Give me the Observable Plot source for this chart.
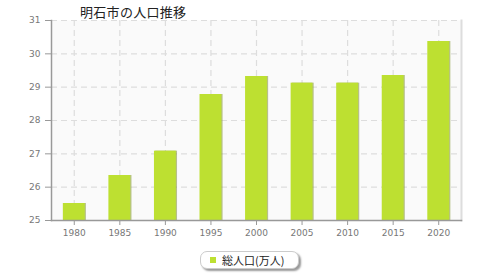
<!DOCTYPE html>
<html><head><meta charset="utf-8">
<script src="https://cdn.jsdelivr.net/npm/d3@7"></script>
<script src="https://cdn.jsdelivr.net/npm/@observablehq/plot@0.6"></script>
<style>
body{margin:0;background:#fff;font-family:"Noto Sans CJK JP","DejaVu Sans",sans-serif;}
#wrap{position:relative;width:480px;height:280px;}
#title{position:absolute;left:80px;top:2px;font-size:13px;color:#222;letter-spacing:0.3px;}
#chart{position:absolute;left:0;top:0;}
#legend{position:absolute;left:200px;top:251px;width:97px;height:16px;border:1px solid #ccc;border-radius:7px;box-shadow:2px 2px 2px #999;background:#fff;font-size:11px;color:#222;display:flex;align-items:center;}
#legend span.sw{display:inline-block;width:6px;height:6px;background:#bde031;margin-left:9px;margin-right:6px;}
</style></head>
<body><div id="wrap"><div id="title">明石市の人口推移</div><div id="chart"></div><div id="legend"><span class="sw"></span><span>総人口(万人)</span></div></div>
<script>
const years = ["1980","1985","1990","1995","2000","2005","2010","2015","2020"];
const population = [25.51, 26.35, 27.08, 28.78, 29.32, 29.12, 29.12, 29.35, 30.37];
const yTicks = [25, 26, 27, 28, 29, 30, 31];
const data = years.map((y, i) => ({year: y, value: population[i]}));

const chart = Plot.plot({
  width: 480, height: 240,
  marginTop: 20, marginBottom: 20, marginLeft: 51, marginRight: 19,
  style: {fontFamily: "DejaVu Sans, sans-serif", fontSize: "9px", color: "#777", background: "transparent"},
  x: {domain: years, paddingInner: 0.52, paddingOuter: 0.26, round: false, label: null},
  y: {domain: [25, 31], ticks: yTicks, label: null, tickFormat: "d"},
  marks: [
    Plot.frame({fill: "#fafafa", stroke: null}),
    Plot.gridY(yTicks, {stroke: "#ddd", strokeOpacity: 1, strokeDasharray: "6,4", strokeWidth: 1.2}),
    Plot.gridX(years, {stroke: "#ddd", strokeOpacity: 1, strokeDasharray: "6,4", strokeWidth: 1.2}),
    Plot.frame({anchor: "right", stroke: "#ddd", strokeWidth: 2}),
    Plot.barY(data, {x: "year", y1: 25, y2: "value", fill: "#8a9a40", fillOpacity: 0.6, dx: 1.2}),
    Plot.barY(data, {x: "year", y1: 25, y2: "value", fill: "#bde031"}),
    Plot.axisY({ticks: yTicks, tickFormat: "d", stroke: "#999", tickSize: 6, tickPadding: 5, fill: "#777"}),
    Plot.axisX({stroke: "#999", tickSize: 5, tickPadding: 4, fill: "#777"}),
    Plot.frame({anchor: "left", stroke: "#999", strokeWidth: 1.5}),
    Plot.frame({anchor: "bottom", stroke: "#999", strokeWidth: 1.5})
  ]
});
document.getElementById("chart").appendChild(chart);
</script></body></html>
